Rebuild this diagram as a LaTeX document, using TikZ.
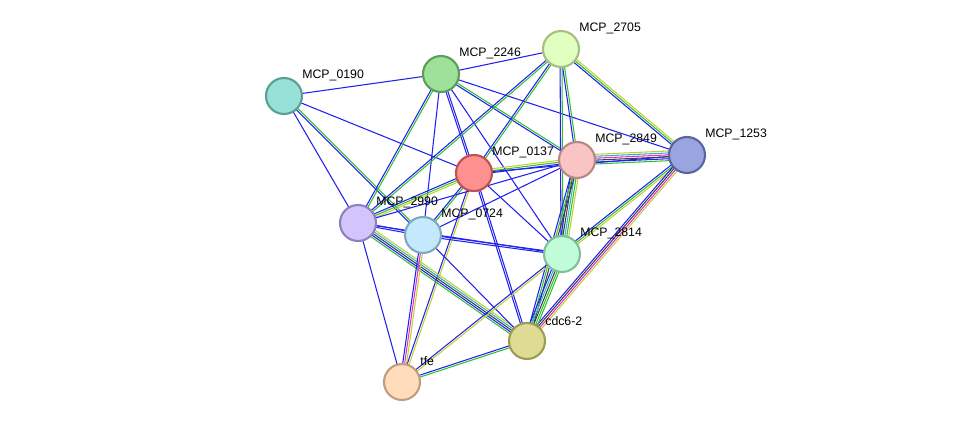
\documentclass[tikz,border=0pt]{standalone}
\usepackage{fontspec}
\setmainfont{Liberation Sans}
\usetikzlibrary{calc}
\pgfdeclarelayer{bg}
\pgfsetlayers{bg,main}
\definecolor{eb}{HTML}{2020F0}
\definecolor{eg}{HTML}{30C030}
\definecolor{ey}{HTML}{C0D030}
\definecolor{ec}{HTML}{30B0D0}
\definecolor{em}{HTML}{E030D0}
\definecolor{ek}{HTML}{404040}
\tikzset{
  prot/.style={circle,draw,line width=1.2pt,minimum size=0.72cm,inner sep=0pt},
  lbl/.style={font=\fontsize{7}{8}\selectfont,anchor=south west,inner sep=0pt}
}
% one edge: colours drawn side by side
\newcommand{\lnk}[3]{%
  \foreach \c [count=\i] in {#3}{\xdef\nlnk{\i}}%
  \foreach \c [count=\i] in {#3}{%
    \pgfmathsetmacro{\off}{(\i-(\nlnk+1)/2)*1.1}%
    \draw[\c,line width=0.6pt] ($(#1)!\off pt!90:(#2)$) -- ($(#2)!\off pt!-90:(#1)$);}}
\begin{document}
\begin{tikzpicture}[x=0.02cm,y=-0.02cm]
\useasboundingbox (0,0) rectangle (975,428);
\node[prot,fill={rgb,255:red,152;green,225;blue,216},draw={rgb,255:red,90;green,158;blue,149}] (p0190) at (284,96) {};
\node[prot,fill={rgb,255:red,159;green,224;blue,154},draw={rgb,255:red,92;green,158;blue,88}] (p2246) at (441,74) {};
\node[prot,fill={rgb,255:red,224;green,255;blue,192},draw={rgb,255:red,166;green,192;blue,128}] (p2705) at (561,49) {};
\node[prot,fill={rgb,255:red,255;green,144;blue,144},draw={rgb,255:red,192;green,80;blue,80}] (p0137) at (474,173) {};
\node[prot,fill={rgb,255:red,248;green,196;blue,196},draw={rgb,255:red,184;green,136;blue,136}] (p2849) at (577,160) {};
\node[prot,fill={rgb,255:red,154;green,164;blue,222},draw={rgb,255:red,90;green,100;blue,160}] (p1253) at (687,155) {};
\node[prot,fill={rgb,255:red,212;green,196;blue,252},draw={rgb,255:red,144;green,128;blue,192}] (p2990) at (358,223) {};
\node[prot,fill={rgb,255:red,196;green,232;blue,252},draw={rgb,255:red,128;green,168;blue,192}] (p0724) at (423,235) {};
\node[prot,fill={rgb,255:red,192;green,252;blue,216},draw={rgb,255:red,128;green,192;blue,152}] (p2814) at (562,254) {};
\node[prot,fill={rgb,255:red,222;green,220;blue,148},draw={rgb,255:red,158;green,156;blue,84}] (cdc) at (527,341) {};
\node[prot,fill={rgb,255:red,254;green,220;blue,188},draw={rgb,255:red,192;green,156;blue,128}] (tfe) at (402,382) {};
% labels
\node[lbl] at (302,81) {MCP\_0190};
\node[lbl] at (459,59) {MCP\_2246};
\node[lbl] at (579,34) {MCP\_2705};
\node[lbl] at (492,158) {MCP\_0137};
\node[lbl] at (595,145) {MCP\_2849};
\node[lbl] at (705,140) {MCP\_1253};
\node[lbl] at (376,208) {MCP\_2990};
\node[lbl] at (441,220) {MCP\_0724};
\node[lbl] at (580,239) {MCP\_2814};
\node[lbl] at (545,326) {cdc6-2};
\node[lbl] at (420,366) {tfe};
\begin{pgfonlayer}{bg}
\lnk{p0190}{p2246}{eb}
\lnk{p0190}{p0137}{eb}
\lnk{p0190}{p2990}{eb}
\lnk{p0190}{p0724}{eb,eg}
\lnk{p2246}{p2705}{eb}
\lnk{p2246}{p0137}{eb,eb}
\lnk{p2246}{p2849}{eb,eg}
\lnk{p2246}{p1253}{eb}
\lnk{p2246}{p2990}{eb,eg}
\lnk{p2246}{p0724}{eb}
\lnk{p2246}{p2814}{eb}
\lnk{p2705}{p0137}{eb,eg}
\lnk{p2705}{p2849}{eb,eg}
\lnk{p2705}{p1253}{eb,eg,ey}
\lnk{p2705}{p2990}{eb,eg}
\lnk{p2705}{p2814}{eb,eg}
\lnk{p0137}{p2849}{eb,eg,ey}
\lnk{p0137}{p1253}{eb}
\lnk{p0137}{p2990}{eb,eg,ey}
\lnk{p0137}{p0724}{eb,eg}
\lnk{p0137}{p2814}{eb}
\lnk{p0137}{cdc}{eb,eb}
\lnk{p0137}{tfe}{eb,ey}
\lnk{p2849}{p1253}{eg,eb,ek,em,ec,ey}
\lnk{p2849}{p2990}{eb}
\lnk{p2849}{p0724}{eb}
\lnk{p2849}{p2814}{eb,ek,ec,eg,ey}
\lnk{p2849}{cdc}{eb,eg,ek}
\lnk{p1253}{p2814}{eb,eg,ey}
\lnk{p1253}{cdc}{eb,ek,em,ey}
\lnk{p2990}{p0724}{eb,eb}
\lnk{p2990}{p2814}{eb}
\lnk{p2990}{cdc}{eg,eb,ek,ec,ey}
\lnk{p2990}{tfe}{eb}
\lnk{p0724}{tfe}{eb,em,ey}
\lnk{p0724}{cdc}{eb}
\lnk{p0724}{p2814}{eb,eb}
\lnk{p2814}{cdc}{eb,ec,ek,eg,eg}
\lnk{p2814}{tfe}{eb,ey}
\lnk{cdc}{tfe}{eb,eg}
\end{pgfonlayer}
\end{tikzpicture}
\end{document}
